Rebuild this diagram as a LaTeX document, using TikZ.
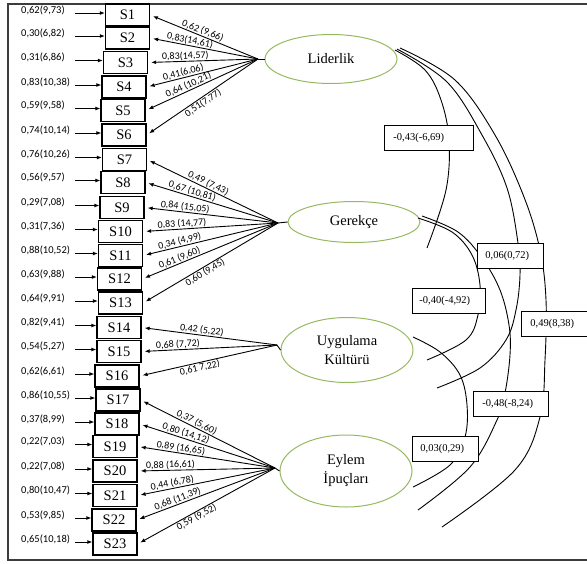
\documentclass[tikz,border=0pt]{standalone}
\usepackage{fontspec}
\setmainfont{Liberation Serif}
\newfontfamily\calibrifont{Carlito}
\usetikzlibrary{arrows.meta,shapes.geometric}
\definecolor{elgreen}{RGB}{150,185,95}
\definecolor{framegray}{RGB}{60,60,60}
\begin{document}
\begin{tikzpicture}[x=1pt,y=-1pt,
  sbox/.style={draw, line width=1.3pt, minimum width=44pt, minimum height=22pt, inner sep=0pt, font=\fontsize{14.5}{16}\selectfont},
  factor/.style={ellipse, draw=elgreen, line width=1pt, minimum width=132pt, inner sep=0pt, align=center, font=\fontsize{14.5}{19}\selectfont},
  errlab/.style={anchor=west, inner sep=0pt, font=\calibrifont\fontsize{10.5}{12}\selectfont},
  errarrow/.style={line width=0.9pt, -{Latex[length=5pt,width=4pt]}},
  load/.style={line width=0.9pt, -{Latex[length=5pt,width=4pt]}, shorten >=3pt},
  lbl/.style={inner sep=0.5pt, font=\calibrifont\fontsize{10}{11}\selectfont},
  corr/.style={draw, fill=white, line width=0.9pt, minimum height=25pt, inner ysep=0pt, align=left, font=\fontsize{10.5}{12}\selectfont},
  cov/.style={line width=0.9pt}]
\useasboundingbox (0,0) rectangle (587,563);
\clip (0,0) rectangle (587,563);
% frame
\draw[line width=1.5pt, framegray] (600,4) -- (8,4) -- (8,560) -- (600,560);
% observed variables with error terms
\foreach \i/\x/\y/\e in {
  1/127.5/15/{0,62(9,73)}, 2/127.5/38/{0,30(6,82)}, 3/125.5/62.5/{0,31(6,86)},
  4/124/87/{0,83(10,38)}, 5/123/110.5/{0,59(9,58)}, 6/124/135/{0,74(10,14)},
  7/124.5/159.5/{0,76(10,26)}, 8/123/182.5/{0,56(9,57)}, 9/122/207.5/{0,29(7,08)},
  10/120.5/231.5/{0,31(7,36)}, 11/120.5/255.5/{0,88(10,52)}, 12/119.5/279/{0,63(9,88)},
  13/120.5/303/{0,64(9,91)}, 14/119/327.5/{0,82(9,41)}, 15/119/351.5/{0,54(5,27)},
  16/117/376/{0,62(6,61)}, 17/118/400/{0,86(10,55)}, 18/117/424/{0,37(8,99)},
  19/115/446.5/{0,22(7,03)}, 20/115/471/{0,22(7,08)}, 21/115/495.5/{0,80(10,47)},
  22/114/520/{0,53(9,85)}, 23/115/544/{0,65(10,18)}}{
  \node[sbox] (s\i) at (\x,\y) {S\i};
  \node[errlab] (e\i) at (21,\y-5) {\e};
  \coordinate (a\i) at (75,\y-2);
  \draw[errarrow] (a\i) -- (a\i -| s\i.west);
}
% latent factors
\node[factor, minimum height=49pt] (L) at (331,59) {Liderlik};
\node[factor, minimum height=41pt] (G) at (354,222) {Gerekçe};
\node[factor, minimum height=65pt] (U) at (347,350) {Uygulama\\Kültürü};
\node[factor, minimum height=72pt] (E) at (346,471) {Eylem\\İpuçları};
\coordinate (lid) at (258,59);
\coordinate (ger) at (278,223);
\coordinate (uyg) at (277,345);
\coordinate (eyl) at (275,468);
\foreach \f/\n in {lid/L, ger/G, uyg/U, eyl/E}{
  \draw[line width=0.9pt] (\f) -- (\n.west);
}
% loadings
\foreach \f/\i/\p/\s/\l in {
  lid/1/0.53/south/{0,62 (9,66)}, lid/2/0.64/south/{0,83(14,61)}, lid/3/0.66/south/{0,83(14,57)},
  lid/4/0.66/south/{0,41(6,06)}, lid/5/0.60/south/{0,64 (10,21)}, lid/6/0.52/north/{0,51(7,77)},
  ger/7/0.55/south/{0,49 (7,43)}, ger/8/0.66/south/{0,67 (10,81)}, ger/9/0.70/south/{0,84 (15,05)},
  ger/10/0.71/south/{0,83 (14,77)}, ger/11/0.72/south/{0,34 (4,99)}, ger/12/0.71/south/{0,61 (9,60)},
  ger/13/0.56/north/{0,60 (9,45)},
  uyg/14/0.56/south/{0,42 (5,22)}, uyg/15/0.73/south/{0,68 (7,72)}, uyg/16/0.57/north/{0,61 7,22)},
  eyl/17/0.60/south/{0,37 (5,60)}, eyl/18/0.67/south/{0,80 (14,12)}, eyl/19/0.69/south/{0,89 (16,65)},
  eyl/20/0.76/south/{0,88 (16,61)}, eyl/21/0.74/south/{0,44 (6,78)}, eyl/22/0.69/south/{0,68 (11,39)},
  eyl/23/0.59/north/{0,59 (9,52)}}{
  \draw[load] (\f) -- node[pos=\p, sloped, anchor=\s, lbl] {\l} (s\i.east);
}
% covariance curves
\coordinate (l1) at (395,50);
\coordinate (l2) at (397,49);
\coordinate (l3) at (400,48);
\coordinate (g1) at (418,218);
\coordinate (g2) at (422,216);
\coordinate (u1) at (413,337);
\coordinate (gEnd) at (427,248);
\coordinate (uEnd1) at (437,388);
\coordinate (uEnd2) at (427,360);
\coordinate (eEnd1) at (442,527);
\coordinate (eEnd2) at (418,510);
\coordinate (eEnd3) at (413,487);
\draw[cov] plot[smooth, tension=0.6] coordinates {(l1) (425,70) (441,100) (449,140) (446,190) (gEnd)};
\draw[cov] plot[smooth, tension=0.6] coordinates {(l2) (447,82) (482,135) (507,188) (518,243) (520,275) (516,310) (506,340) (480,368) (uEnd1)};
\draw[cov] plot[smooth, tension=0.6] coordinates {(l3) (455,80) (495,135) (524,197) (540,250) (546,300) (545,360) (540,417) (515,470) (eEnd1)};
\draw[cov] plot[smooth, tension=0.6] coordinates {(g1) (452,232) (472,255) (480,285) (478,315) (466,340) (uEnd2)};
\draw[cov] plot[smooth, tension=0.6] coordinates {(g2) (458,232) (482,258) (500,290) (509,325) (510,355) (505,393) (497,420) (470,467) (eEnd2)};
\draw[cov] plot[smooth, tension=0.6] coordinates {(u1) (440,352) (460,375) (467,405) (465,437) (450,465) (eEnd3)};
% correlation boxes
\node[corr, anchor=west, inner xsep=9pt, text width=71pt] (c1) at (384,138) {-0,43(-6,69)};
\node[corr, anchor=west, inner xsep=8pt, text width=50pt] (c2) at (477,255.5) {0,06(0,72)};
\node[corr, anchor=west, inner xsep=7pt, text width=59pt] (c3) at (412,300.5) {-0,40(-4,92)};
\node[corr, anchor=west, inner xsep=9pt, text width=56pt] (c4) at (521,324) {0,49(8,38)};
\node[corr, anchor=west, inner xsep=9pt, text width=57pt] (c5) at (473,404) {-0,48(-8,24)};
\node[corr, anchor=west, inner xsep=8pt, text width=50pt] (c6) at (412,448.5) {0,03(0,29)};
\end{tikzpicture}
\end{document}
